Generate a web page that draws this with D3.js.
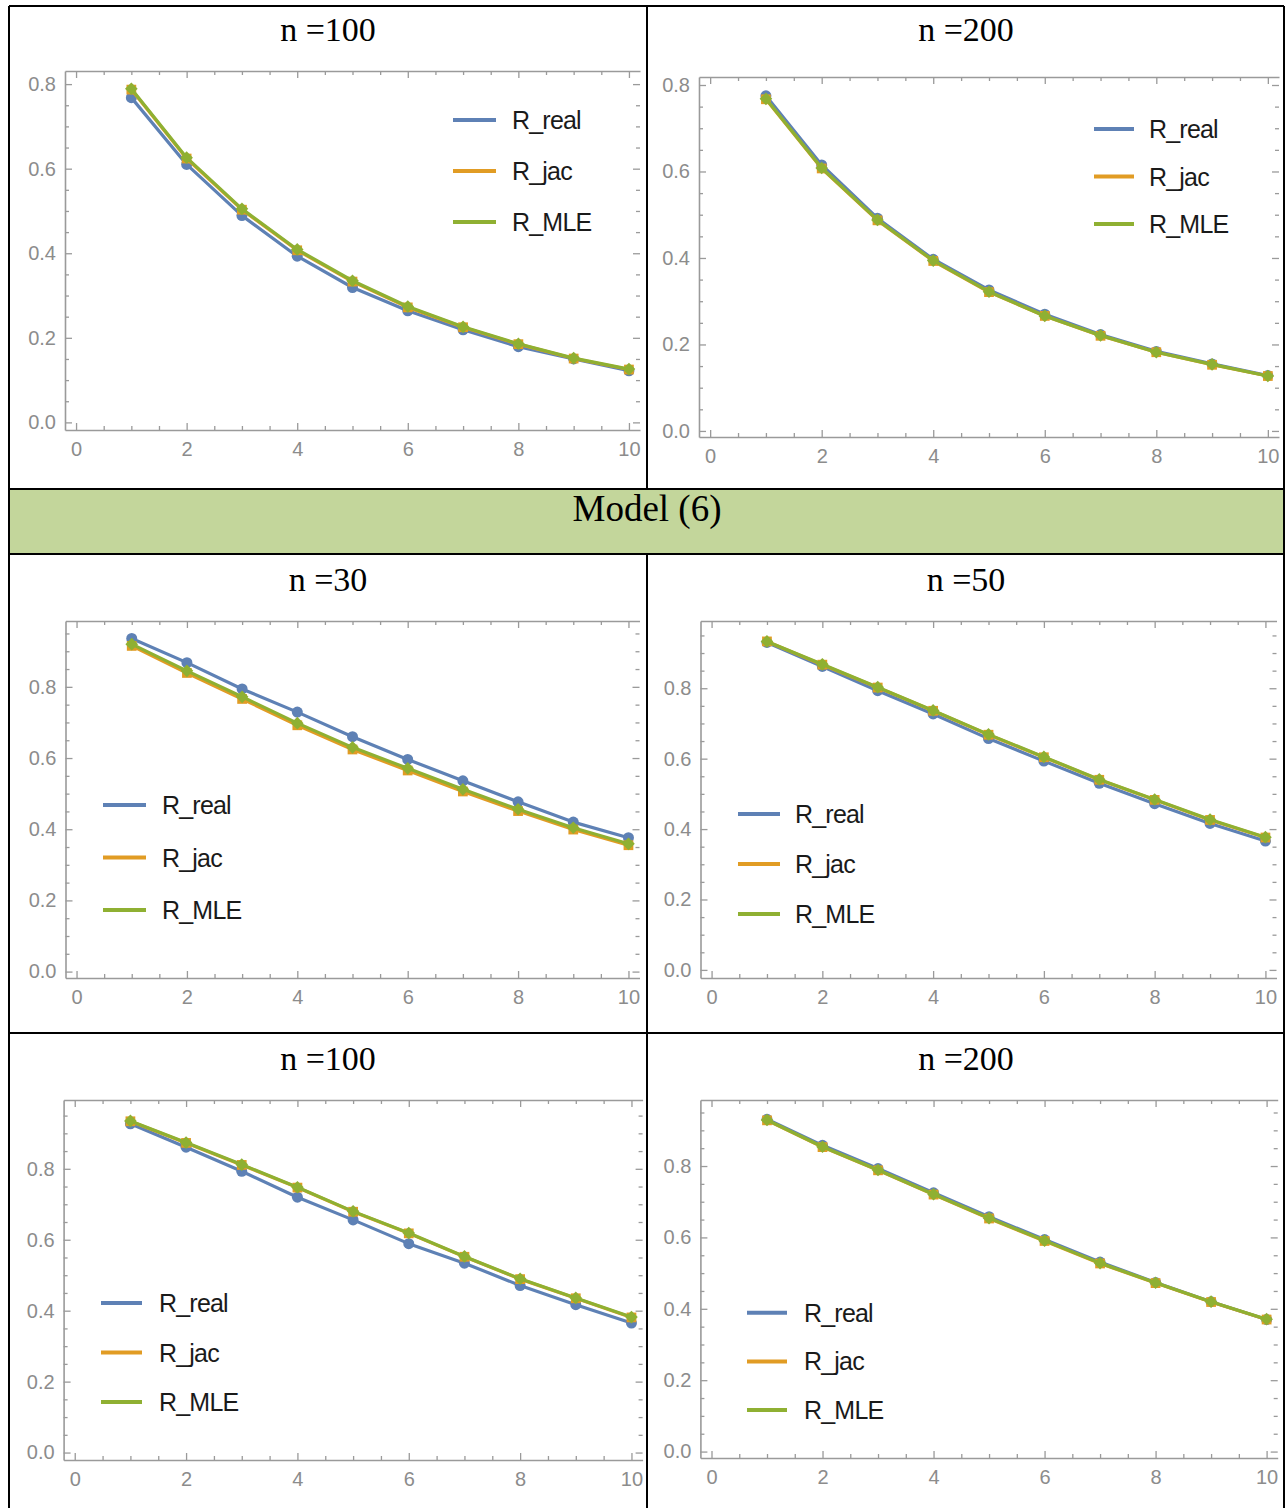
<!DOCTYPE html>
<html>
<head>
<meta charset="utf-8">
<script src="https://cdn.jsdelivr.net/npm/d3@7"></script>
<style>
body { margin: 0; background: #fff; }
</style>
</head>
<body>
<svg width="1285" height="1508"></svg>
<script>
// x positions of the points
const steps = [1, 2, 3, 4, 5, 6, 7, 8, 9, 10];
const seriesNames = ['R_real', 'R_jac', 'R_MLE'];
const seriesColors = ['#5e81b5', '#e19c24', '#8fb032'];
const panelTitles = ['n =100', 'n =200', 'n =30', 'n =50', 'n =100', 'n =200'];
const bandTitle = 'Model (6)';
const xTicks = [0, 2, 4, 6, 8, 10];
const yTicks = [0, 0.2, 0.4, 0.6, 0.8];

// top row (previous model), n = 100 and n = 200
const real_a100 = [0.768, 0.610, 0.489, 0.393, 0.319, 0.264, 0.219, 0.179, 0.150, 0.122];
const jac_a100  = [0.787, 0.624, 0.503, 0.407, 0.333, 0.272, 0.225, 0.185, 0.151, 0.125];
const mle_a100  = [0.789, 0.626, 0.505, 0.409, 0.335, 0.274, 0.226, 0.186, 0.152, 0.126];
const real_a200 = [0.775, 0.615, 0.492, 0.397, 0.326, 0.270, 0.223, 0.184, 0.155, 0.128];
const jac_a200  = [0.767, 0.607, 0.487, 0.393, 0.321, 0.266, 0.220, 0.182, 0.153, 0.127];
const mle_a200  = [0.768, 0.608, 0.488, 0.394, 0.322, 0.266, 0.221, 0.182, 0.154, 0.127];

// Model (6)
const real_30  = [0.936, 0.868, 0.794, 0.729, 0.660, 0.596, 0.536, 0.477, 0.420, 0.376];
const jac_30   = [0.915, 0.839, 0.766, 0.692, 0.624, 0.565, 0.506, 0.451, 0.399, 0.355];
const mle_30   = [0.920, 0.845, 0.772, 0.698, 0.630, 0.571, 0.512, 0.456, 0.404, 0.359];
const real_50  = [0.930, 0.862, 0.793, 0.727, 0.657, 0.593, 0.530, 0.472, 0.416, 0.366];
const jac_50   = [0.933, 0.867, 0.802, 0.736, 0.668, 0.604, 0.540, 0.483, 0.426, 0.376];
const mle_50   = [0.933, 0.868, 0.803, 0.737, 0.669, 0.605, 0.541, 0.484, 0.427, 0.377];
const real_100 = [0.927, 0.861, 0.793, 0.720, 0.656, 0.589, 0.534, 0.471, 0.417, 0.365];
const jac_100  = [0.934, 0.873, 0.811, 0.747, 0.679, 0.618, 0.552, 0.489, 0.435, 0.381];
const mle_100  = [0.935, 0.874, 0.812, 0.748, 0.680, 0.619, 0.553, 0.490, 0.436, 0.382];
const real_200 = [0.931, 0.858, 0.793, 0.725, 0.658, 0.594, 0.531, 0.474, 0.420, 0.370];
const jac_200  = [0.928, 0.853, 0.788, 0.720, 0.653, 0.590, 0.527, 0.472, 0.419, 0.370];
const mle_200  = [0.929, 0.854, 0.789, 0.721, 0.654, 0.591, 0.528, 0.473, 0.420, 0.371];

const panelSeries = [
    [real_a100, jac_a100, mle_a100],
    [real_a200, jac_a200, mle_a200],
    [real_30, jac_30, mle_30],
    [real_50, jac_50, mle_50],
    [real_100, jac_100, mle_100],
    [real_200, jac_200, mle_200]
];

// frame box of every plot + its y range, and where its legend sits
const layout = [
    {l: 65,    r: 640,    t: 71,   b: 430,  y0: -0.018, y1: 0.831, tx: 328, ty: 41,   leg: [453, 496, 512, 120, 51]},
    {l: 699,   r: 1279,   t: 77,   b: 437,  y0: -0.014, y1: 0.8185, tx: 966, ty: 41,  leg: [1094, 1134, 1149, 129, 47.5]},
    {l: 65.5,  r: 639.5,  t: 621,  b: 978,  y0: -0.018, y1: 0.985, tx: 328, ty: 591,  leg: [103, 146, 162, 805, 52.5]},
    {l: 700.5, r: 1276.5, t: 621,  b: 978,  y0: -0.023, y1: 0.991, tx: 966, ty: 591,  leg: [738, 780, 795, 814, 50]},
    {l: 63.6,  r: 642.6,  t: 1100, b: 1460, y0: -0.021, y1: 0.994, tx: 328, ty: 1070, leg: [101, 142, 159, 1303, 49.5]},
    {l: 700.4, r: 1277.7, t: 1100, b: 1458, y0: -0.018, y1: 0.985, tx: 966, ty: 1070, leg: [747, 787, 804, 1312.7, 48.7]}
];

const svg = d3.select('svg');
const frameColor = '#9a9a9a';
// circle, square, and a square turned 45deg for the third series
const symbols = [d3.symbolCircle, d3.symbolSquare, d3.symbolSquare];

// green band under the model title
svg.append('rect').attr('x', 9).attr('y', 489).attr('width', 1275).attr('height', 65)
    .attr('fill', '#c3d69b');

panelSeries.forEach((series, i) => drawPanel(series, layout[i], panelTitles[i]));

svg.append('text').text(bandTitle)
    .attr('x', 647).attr('y', 521).attr('text-anchor', 'middle')
    .style('font-family', '"Liberation Serif", "Times New Roman", serif').style('font-size', '37px');

// table rules
const rules = [
    [9, 6, 1284, 6], [9, 6, 9, 1508], [1284, 6, 1284, 1508],
    [647, 6, 647, 489], [647, 554, 647, 1508],
    [9, 489, 1284, 489], [9, 554, 1284, 554], [9, 1033, 1284, 1033]
];
svg.selectAll('line.rule').data(rules).join('line').attr('class', 'rule')
    .attr('x1', d => d[0]).attr('y1', d => d[1]).attr('x2', d => d[2]).attr('y2', d => d[3])
    .attr('stroke', '#000').attr('stroke-width', 2);

function drawPanel(series, box, title) {
    const x = d3.scaleLinear().domain([-0.2, 10.2]).range([box.l, box.r]);
    const y = d3.scaleLinear().domain([box.y0, box.y1]).range([box.b, box.t]);
    const g = svg.append('g');

    g.append('text').text(title)
        .attr('x', box.tx).attr('y', box.ty).attr('text-anchor', 'middle')
        .style('font-family', '"Liberation Serif", "Times New Roman", serif').style('font-size', '34px');

    const xMinor = d3.range(0.5, 10.01, 0.5).filter(v => v % 2 !== 0);
    const yMinor = d3.range(0.05, box.y1, 0.05).filter(v => Math.abs(v * 5 - Math.round(v * 5)) > 1e-6);

    g.append('g').attr('transform', `translate(0,${box.b})`)
        .call(d3.axisBottom(x).tickValues(xTicks).tickSize(-7).tickSizeOuter(0).tickPadding(12));
    g.append('g').attr('transform', `translate(0,${box.b})`)
        .call(d3.axisBottom(x).tickValues(xMinor).tickSize(-4).tickFormat('')).select('.domain').remove();
    g.append('g').attr('transform', `translate(${box.l},0)`)
        .call(d3.axisLeft(y).tickValues(yTicks).tickSize(-7).tickSizeOuter(0).tickPadding(9)
            .tickFormat(d3.format('.1f')));
    g.append('g').attr('transform', `translate(${box.l},0)`)
        .call(d3.axisLeft(y).tickValues(yMinor).tickSize(-4).tickFormat('')).select('.domain').remove();
    g.append('g').attr('transform', `translate(0,${box.t})`)
        .call(d3.axisTop(x).tickValues(xTicks).tickSize(-7).tickSizeOuter(0).tickFormat(''));
    g.append('g').attr('transform', `translate(0,${box.t})`)
        .call(d3.axisTop(x).tickValues(xMinor).tickSize(-4).tickFormat('')).select('.domain').remove();
    // right frame line is cropped off in the original, only its ticks show
    g.append('g').attr('transform', `translate(${box.r},0)`)
        .call(d3.axisRight(y).tickValues(yTicks).tickSize(-7).tickFormat('')).select('.domain').remove();
    g.append('g').attr('transform', `translate(${box.r},0)`)
        .call(d3.axisRight(y).tickValues(yMinor).tickSize(-4).tickFormat('')).select('.domain').remove();

    g.selectAll('.domain').attr('stroke', frameColor).attr('stroke-width', 1.6);
    g.selectAll('.tick line').attr('stroke', frameColor).attr('stroke-width', 1.3);
    g.selectAll('.tick text').attr('fill', '#8c8c8c')
        .style('font-family', '"Liberation Sans", Arial, sans-serif').style('font-size', '20px');

    const line = d3.line().x((d, i) => x(steps[i])).y(d => y(d));

    series.forEach((vals, k) => {
        g.append('path').datum(vals).attr('d', line)
            .attr('fill', 'none').attr('stroke', seriesColors[k]).attr('stroke-width', 3.2)
            .attr('stroke-linejoin', 'round');
        g.selectAll(null).data(vals).join('path')
            .attr('transform', (d, i) => `translate(${x(steps[i])},${y(d)})` + (k === 2 ? ' rotate(45)' : ''))
            .attr('d', d3.symbol().type(symbols[k]).size(k === 2 ? 80 : 95))
            .attr('fill', seriesColors[k]);
    });

    const [lx0, lx1, tx, ly, gap] = box.leg;
    seriesNames.forEach((name, k) => {
        g.append('line').attr('x1', lx0).attr('x2', lx1)
            .attr('y1', ly + k * gap).attr('y2', ly + k * gap)
            .attr('stroke', seriesColors[k]).attr('stroke-width', 4);
        g.append('text').text(name).attr('x', tx).attr('y', ly + k * gap).attr('dy', '0.36em')
            .attr('fill', '#1a1a1a').style('letter-spacing', '-0.8px')
            .style('font-family', '"Liberation Sans", Arial, sans-serif').style('font-size', '25px');
    });
}
</script>
</body>
</html>
